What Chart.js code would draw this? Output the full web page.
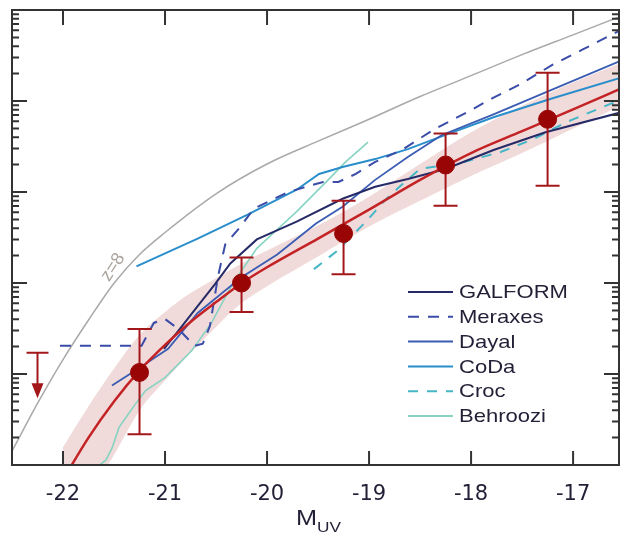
<!DOCTYPE html>
<html lang="en">
<head>
<meta charset="UTF-8">
<title>UV luminosity function</title>
<script src="https://cdn.jsdelivr.net/npm/chart.js@4"></script>
<style>
  html, body { margin: 0; padding: 0; background: #fff; }
  #wrap { width: 629px; height: 534px; }
</style>
</head>
<body>
<div id="wrap"><canvas id="lfChart" width="629" height="534"></canvas></div>
<script>
  // x tick values
  const xTicks = [-22, -21, -20, -19, -18, -17];

  // observed points with error bars
  const obsMag = [-21.25, -20.25, -19.25, -18.25, -17.25];
  const obsPhi = [1.04e-6, 1.0e-5, 3.5e-5, 1.98e-4, 6.3e-4];
  const obsHi  = [3.13e-6, 1.91e-5, 8.0e-5, 4.4e-4, 2.05e-3];
  const obsLo  = [2.18e-7, 4.8e-6, 1.25e-5, 7.06e-5, 1.17e-4];

  // upper limit
  const limMag = -22.25;
  const limPhi = 1.71e-6;
  const limTip = 5.4e-7;

  // fit curve + shaded band
  const curveMag = [-22.0, -21.75, -21.5, -21.25, -21.0, -20.75, -20.5, -20.25, -20.0, -19.5, -19.0, -18.5, -18.0, -17.5, -17.0, -16.55];
  const fitPhi  = [6.9e-8, 2.0e-7, 5.0e-7, 1.09e-6, 2.09e-6, 3.73e-6, 6.17e-6, 9.96e-6, 1.49e-5, 3.08e-5, 6.40e-5, 1.36e-4, 2.68e-4, 4.66e-4, 8.09e-4, 1.34e-3];
  const bandHi  = [1.57e-7, 4.41e-7, 1.15e-6, 2.69e-6, 4.80e-6, 7.74e-6, 1.13e-5, 1.64e-5, 2.28e-5, 4.28e-5, 8.87e-5, 2.03e-4, 4.54e-4, 8.87e-4, 1.60e-3, 2.57e-3];
  const bandLo  = [1.6e-8, 4.7e-8, 1.29e-7, 3.98e-7, 8.47e-7, 1.71e-6, 3.29e-6, 6.01e-6, 9.23e-6, 1.96e-5, 4.17e-5, 8.02e-5, 1.50e-4, 2.68e-4, 5.00e-4, 8.69e-4];

  // z=8 reference curve
  const z8Mag = [-22.5, -22.25, -22.0, -21.75, -21.5, -21.25, -21.0, -20.5, -20.0, -19.5, -19.0, -18.5, -18.0, -17.5, -17.0, -16.55];
  const z8Phi = [1.42e-7, 4.75e-7, 1.44e-6, 3.92e-6, 9.95e-6, 2.06e-5, 3.59e-5, 9.55e-5, 2.03e-4, 3.62e-4, 6.30e-4, 1.12e-3, 1.90e-3, 3.23e-3, 5.33e-3, 8.39e-3];
  const z8LabelMag = -21.51;
  const z8LabelPhi = 1.49e-5;

  // models
  const galformMag = [-21.01, -20.87, -20.68, -20.51, -20.36, -20.10, -19.71, -19.26, -18.94, -18.62, -18.25, -17.78, -17.27, -16.53];
  const galformPhi = [1.89e-6, 2.98e-6, 5.58e-6, 9.71e-6, 1.64e-5, 3.01e-5, 4.73e-5, 8.43e-5, 1.14e-4, 1.39e-4, 1.79e-4, 2.89e-4, 4.54e-4, 7.51e-4];

  const meraxesMag = [-22.03, -21.23, -21.11, -21.00, -20.87, -20.71, -20.63, -20.56, -20.48, -20.41, -20.26, -20.13, -19.93, -19.78, -19.45, -19.30, -19.13, -18.94, -18.68, -18.36, -18.04, -17.78, -17.52, -17.20, -16.91, -16.53];
  const meraxesPhi = [2.04e-6, 2.04e-6, 3.64e-6, 4.02e-6, 3.13e-6, 2.04e-6, 2.15e-6, 3.38e-6, 1.19e-5, 2.65e-5, 4.17e-5, 6.56e-5, 8.43e-5, 1.01e-4, 1.29e-4, 1.29e-4, 1.58e-4, 2.14e-4, 2.89e-4, 4.90e-4, 7.51e-4, 1.09e-3, 1.52e-3, 2.51e-3, 3.66e-3, 6.05e-3];

  const dayalMag = [-21.52, -21.26, -20.97, -20.68, -20.25, -19.90, -19.52, -19.26, -18.94, -18.62, -18.29, -17.78, -17.20, -16.53];
  const dayalPhi = [7.46e-7, 1.15e-6, 1.89e-6, 4.68e-6, 1.16e-5, 2.06e-5, 4.50e-5, 6.89e-5, 1.36e-4, 2.42e-4, 4.20e-4, 7.14e-4, 1.34e-3, 2.77e-3];

  const codaMag = [-21.28, -20.68, -20.19, -19.71, -19.49, -19.26, -18.94, -18.62, -18.23, -17.78, -17.20, -16.53];
  const codaPhi = [1.52e-5, 3.08e-5, 5.64e-5, 1.06e-4, 1.58e-4, 1.88e-4, 2.30e-4, 2.96e-4, 4.32e-4, 6.62e-4, 1.07e-3, 1.81e-3];

  const crocMag = [-19.54, -19.32, -19.03, -18.84, -18.68, -18.50, -18.25, -18.07, -17.71, -17.39, -17.07, -16.53];
  const crocPhi = [1.42e-5, 2.22e-5, 4.73e-5, 8.22e-5, 1.20e-4, 1.79e-4, 1.98e-4, 2.14e-4, 2.75e-4, 3.81e-4, 5.83e-4, 1.04e-3];

  const behrooziMag = [-21.64, -21.58, -21.52, -21.45, -21.30, -21.19, -21.00, -20.74, -20.55, -20.34, -20.10, -19.90, -19.71, -19.42, -19.23, -19.01];
  const behrooziPhi = [1.0e-7, 1.13e-7, 1.53e-7, 2.60e-7, 4.52e-7, 6.59e-7, 9.14e-7, 1.80e-6, 3.55e-6, 9.71e-6, 2.40e-5, 3.87e-5, 6.08e-5, 1.29e-4, 2.14e-4, 3.53e-4];

  const errColor = '#a3171b';
  const textColor = '#221f36';

  function pts(xs, ys) {
    return xs.map((x, i) => ({ x: x, y: ys[i] }));
  }

  function modelLine(name, mags, phis, color, dash, width) {
    return {
      label: name, data: pts(mags, phis), showLine: true,
      borderColor: color, borderWidth: width, borderDash: dash,
      pointRadius: 0, tension: 0, fill: false, order: 2, isModel: true
    };
  }

  const decorations = {
    id: 'decorations',
    beforeDatasetDraw(chart, args) {
      if (chart.data.datasets[args.index].label !== 'obs') return;
      const ctx = chart.ctx, xs = chart.scales.x, ys = chart.scales.y;
      ctx.save();
      ctx.strokeStyle = errColor;
      ctx.lineWidth = 2;
      ctx.beginPath();
      obsMag.forEach((m, i) => {
        const px = xs.getPixelForValue(m);
        const top = ys.getPixelForValue(obsHi[i]);
        const bot = ys.getPixelForValue(obsLo[i]);
        ctx.moveTo(px, top); ctx.lineTo(px, bot);
        ctx.moveTo(px - 12, top); ctx.lineTo(px + 12, top);
        ctx.moveTo(px - 12, bot); ctx.lineTo(px + 12, bot);
      });
      // upper limit
      const lx = xs.getPixelForValue(limMag);
      const ly = ys.getPixelForValue(limPhi);
      const tip = ys.getPixelForValue(limTip);
      ctx.moveTo(lx - 11, ly); ctx.lineTo(lx + 11, ly);
      ctx.moveTo(lx, ly); ctx.lineTo(lx, tip - 10);
      ctx.stroke();
      ctx.fillStyle = errColor;
      ctx.beginPath();
      ctx.moveTo(lx - 6, tip - 15);
      ctx.lineTo(lx + 6, tip - 15);
      ctx.lineTo(lx, tip);
      ctx.closePath();
      ctx.fill();
      ctx.restore();
    },
    afterDraw(chart) {
      const ctx = chart.ctx, area = chart.chartArea;
      const xs = chart.scales.x, ys = chart.scales.y;
      ctx.save();
      // ticks
      ctx.strokeStyle = '#333';
      ctx.lineWidth = 2;
      ctx.beginPath();
      xTicks.forEach(v => {
        const px = xs.getPixelForValue(v);
        ctx.moveTo(px, area.bottom); ctx.lineTo(px, area.bottom - 14);
        ctx.moveTo(px, area.top); ctx.lineTo(px, area.top + 15);
      });
      for (let e = -7; e < -2; e++) {
        for (let m = 1; m < 10; m++) {
          const py = ys.getPixelForValue(m * Math.pow(10, e));
          const len = m === 1 ? 15 : 7;
          ctx.moveTo(area.left, py); ctx.lineTo(area.left + len, py);
          ctx.moveTo(area.right, py); ctx.lineTo(area.right - len, py);
        }
      }
      ctx.stroke();
      ctx.strokeRect(area.left, area.top, area.right - area.left, area.bottom - area.top);

      // z=8 label
      ctx.save();
      ctx.translate(xs.getPixelForValue(z8LabelMag), ys.getPixelForValue(z8LabelPhi));
      ctx.rotate(-57 * Math.PI / 180);
      ctx.fillStyle = '#aba59d';
      ctx.font = '18px "Liberation Sans", Arial, sans-serif';
      ctx.textAlign = 'center';
      ctx.textBaseline = 'middle';
      ctx.fillText('z=8', 0, 0);
      ctx.restore();

      // legend
      const models = chart.data.datasets.filter(d => d.isModel);
      models.forEach((d, i) => {
        const ly = 292 + i * 24.8;
        ctx.save();
        ctx.strokeStyle = d.borderColor;
        ctx.lineWidth = 2;
        ctx.setLineDash(d.borderDash || []);
        ctx.beginPath();
        ctx.moveTo(408, ly); ctx.lineTo(453, ly);
        ctx.stroke();
        ctx.restore();
        ctx.save();
        ctx.translate(459, ly);
        ctx.scale(1.16, 1);
        ctx.fillStyle = textColor;
        ctx.font = '19px "Liberation Sans", Arial, sans-serif';
        ctx.textBaseline = 'middle';
        ctx.fillText(d.label, 0, 1);
        ctx.restore();
      });

      // axis title M_UV
      ctx.fillStyle = textColor;
      ctx.textBaseline = 'alphabetic';
      ctx.save();
      ctx.translate(296, 525);
      ctx.scale(1.15, 1);
      ctx.font = '22px "Liberation Sans", Arial, sans-serif';
      ctx.fillText('M', 0, 0);
      const mw = ctx.measureText('M').width;
      ctx.font = '15px "Liberation Sans", Arial, sans-serif';
      ctx.fillText('UV', mw, 7);
      ctx.restore();
      ctx.restore();
    }
  };

  const datasets = [
    {
      label: 'obs', data: pts(obsMag, obsPhi), showLine: false,
      pointRadius: 9, pointBackgroundColor: '#990505', pointBorderColor: '#990505', order: 0
    },
    {
      label: 'fit', data: pts(curveMag, fitPhi), showLine: true,
      borderColor: '#c42326', borderWidth: 2.5, pointRadius: 0,
      cubicInterpolationMode: 'monotone', fill: false, order: 1
    },
    modelLine('GALFORM', galformMag, galformPhi, '#262b68', [], 2),
    modelLine('Meraxes', meraxesMag, meraxesPhi, '#3b4ca8', [11, 9], 2),
    modelLine('Dayal', dayalMag, dayalPhi, '#3a5cb2', [], 1.8),
    modelLine('CoDa', codaMag, codaPhi, '#2a8ecb', [], 2),
    modelLine('Croc', crocMag, crocPhi, '#46b6c6', [10, 9], 2),
    modelLine('Behroozi', behrooziMag, behrooziPhi, '#86d3c2', [], 1.6),
    {
      label: 'z8', data: pts(z8Mag, z8Phi), showLine: true,
      borderColor: '#a9a9a9', borderWidth: 1.5, pointRadius: 0,
      cubicInterpolationMode: 'monotone', fill: false, order: 3
    },
    {
      label: 'bandHi', data: pts(curveMag, bandHi), showLine: true,
      borderWidth: 0, borderColor: 'rgba(0,0,0,0)', pointRadius: 0,
      cubicInterpolationMode: 'monotone', fill: '+1',
      backgroundColor: 'rgba(214,150,150,0.35)', order: 4
    },
    {
      label: 'bandLo', data: pts(curveMag, bandLo), showLine: true,
      borderWidth: 0, borderColor: 'rgba(0,0,0,0)', pointRadius: 0,
      cubicInterpolationMode: 'monotone', fill: false, order: 4
    }
  ];

  new Chart(document.getElementById('lfChart'), {
    type: 'scatter',
    data: { datasets: datasets },
    options: {
      responsive: false,
      animation: false,
      layout: { padding: { top: 7, left: 12, right: 1, bottom: 0 } },
      plugins: { legend: { display: false }, tooltip: { enabled: false } },
      scales: {
        x: {
          type: 'linear', min: -22.5, max: -16.55,
          afterBuildTicks: axis => { axis.ticks = xTicks.map(v => ({ value: v })); },
          afterFit: axis => { axis.height = 69; },
          grid: { display: false, drawTicks: false },
          border: { display: false },
          ticks: { color: textColor, font: { family: 'DejaVu Sans', size: 21 }, padding: 17, maxRotation: 0 }
        },
        y: { type: 'logarithmic', min: 1e-7, max: 1e-2, display: false }
      }
    },
    plugins: [decorations]
  });
</script>
</body>
</html>
